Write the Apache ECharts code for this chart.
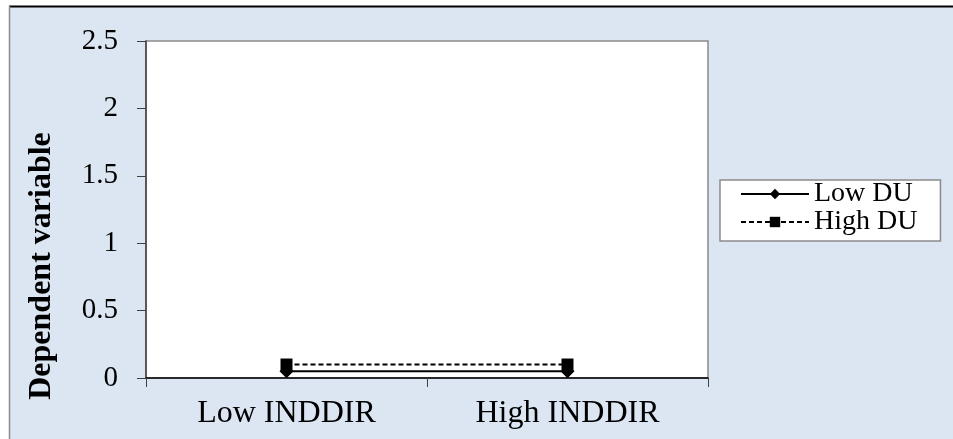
<!DOCTYPE html>
<html>
<head>
<meta charset="utf-8">
<script src="https://cdn.jsdelivr.net/npm/echarts@6/dist/echarts.min.js"></script>
<style>
html,body{margin:0;padding:0;background:#fff;}
#c{width:953px;height:439px;}
</style>
</head>
<body>
<div id="c"></div>
<script>
var categories = ['Low INDDIR', 'High INDDIR'];
var lowDU = [0.05, 0.05];
var highDU = [0.1, 0.1];
var seriesNames = ['Low DU', 'High DU'];
var yAxisName = 'Dependent variable';

var font = '"Liberation Serif", "Times New Roman", serif';
var chart = echarts.init(document.getElementById('c'), null, {renderer: 'canvas'});
chart.setOption({
  backgroundColor: '#ffffff',
  animation: false,
  graphic: [
    {type: 'rect', z: -10, shape: {x: 9, y: 6, width: 960, height: 450}, style: {fill: '#dce6f2'}},
    {type: 'line', z: -9, shape: {x1: 9, y1: 6.5, x2: 953, y2: 6.5}, style: {stroke: '#000', lineWidth: 2}},
    {type: 'line', z: -9, shape: {x1: 9.5, y1: 6, x2: 9.5, y2: 439}, style: {stroke: '#8a8a8a', lineWidth: 1.5}},
    {type: 'text', z: 10, x: 42, y: 266, rotation: Math.PI / 2,
      style: {text: yAxisName, font: 'bold 32px ' + font, fill: '#000', align: 'center', verticalAlign: 'middle'}}
  ],
  grid: {left: 146, top: 41, right: 245, bottom: 61, show: true, backgroundColor: '#ffffff', borderColor: '#8a8a8a', borderWidth: 1.5},
  legend: {
    orient: 'vertical', left: 720, top: 180,
    data: seriesNames,
    backgroundColor: '#ffffff', borderColor: '#8a8a8a', borderWidth: 1.5,
    padding: [0, 23, 5, 20], itemGap: 0, itemWidth: 68, itemHeight: 13,
    textStyle: {fontFamily: font, fontSize: 28, color: '#000', lineHeight: 27}
  },
  xAxis: {
    type: 'category', data: categories, boundaryGap: true,
    axisLine: {lineStyle: {color: '#000', width: 1.5}},
    axisTick: {show: true, length: 9, lineStyle: {color: '#404040'}},
    axisLabel: {fontFamily: font, fontSize: 32, color: '#000', margin: 20}
  },
  yAxis: {
    type: 'value', min: 0, max: 2.5, interval: 0.5,
    axisLine: {show: true, lineStyle: {color: '#404040', width: 1.5}},
    axisTick: {show: true, length: 9, lineStyle: {color: '#404040'}},
    splitLine: {show: false},
    axisLabel: {fontFamily: font, fontSize: 29, color: '#000', margin: 28}
  },
  series: [
    {name: seriesNames[0], type: 'line', data: lowDU, symbol: 'diamond', symbolSize: 14,
      lineStyle: {color: '#000', width: 2, type: 'solid'}, itemStyle: {color: '#000'}},
    {name: seriesNames[1], type: 'line', data: highDU, symbol: 'rect', symbolSize: 12,
      lineStyle: {color: '#000', width: 2, type: [5, 3]}, itemStyle: {color: '#000'}}
  ]
});
</script>
</body>
</html>
